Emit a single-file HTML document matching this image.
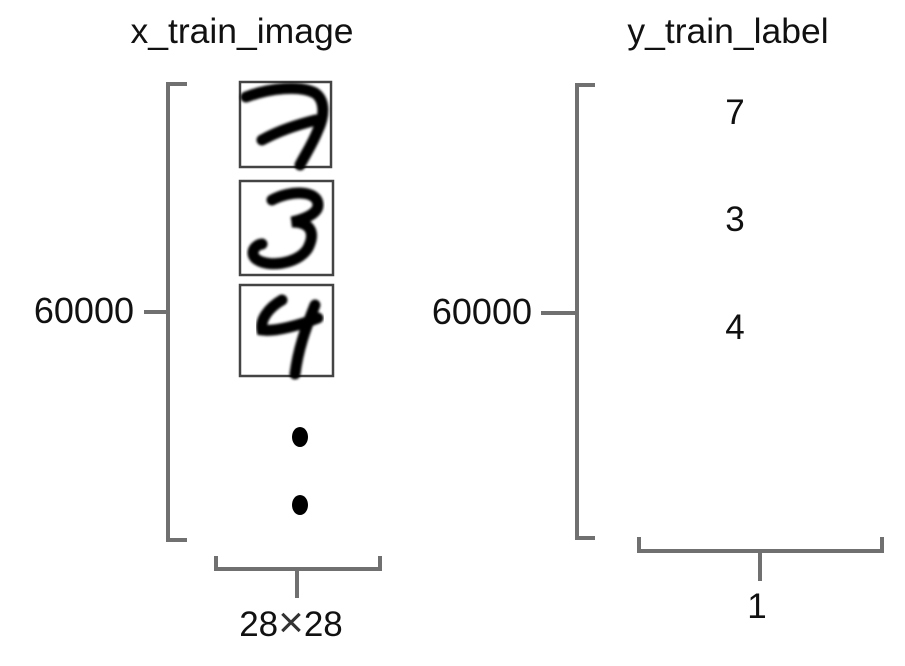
<!DOCTYPE html>
<html><head><meta charset="utf-8"><style>
html,body{margin:0;padding:0;background:#fff;}
svg{display:block;}
text{font-family:"Liberation Sans",Arial,sans-serif;fill:#111;}
</style></head><body>
<svg width="905" height="666" viewBox="0 0 905 666">
<defs><filter id="b" x="-10%" y="-10%" width="120%" height="120%"><feGaussianBlur stdDeviation="1.2"/></filter></defs>
<text x="242" y="43" font-size="35.5" text-anchor="middle">x_train_image</text>
<text x="728" y="43" font-size="35.5" text-anchor="middle">y_train_label</text>

<g stroke="#707070" stroke-width="4" fill="none">
<path d="M187,84 H168 V540 H187"/><path d="M144,312 H168"/>
</g>
<text x="134" y="323" font-size="36" text-anchor="end">60000</text>

<g stroke="#707070" stroke-width="4" fill="none">
<path d="M595,85 H577 V538 H595"/><path d="M541,313 H577"/>
</g>
<text x="532" y="324" font-size="36" text-anchor="end">60000</text>

<g stroke="#707070" stroke-width="4" fill="none">
<path d="M216,556 V569 H380 V556"/><path d="M297,569 V598"/>
</g>
<text x="291" y="636" font-size="35" text-anchor="middle">28<tspan font-size="44" dy="1" fill="#333">×</tspan><tspan dy="-1">28</tspan></text>

<g stroke="#707070" stroke-width="4" fill="none">
<path d="M639,537 V551 H882 V537"/><path d="M760,551 V581"/>
</g>
<text x="757" y="618" font-size="35" text-anchor="middle">1</text>

<g>
<rect x="240" y="82" width="91" height="85" fill="#fff" stroke="#444" stroke-width="2.5"/>
<path d="M246,97 C270,88 300,85 315,93 C325,100 325,115 318,130 C312,145 305,155 300,165 M262,140 C280,130 300,124 316,120" stroke="#000" stroke-width="11" fill="none" stroke-linecap="round" filter="url(#b)"/>
</g>
<g>
<rect x="240" y="181" width="93" height="94" fill="#fff" stroke="#444" stroke-width="2.5"/>
<path d="M272,200 C290,190 318,190 318,205 C318,215 300,220 292,222 C310,222 316,232 308,248 C298,265 265,268 255,258 C250,252 255,245 262,244" stroke="#000" stroke-width="11" fill="none" stroke-linecap="round" filter="url(#b)"/>
</g>
<g>
<rect x="240" y="285" width="93" height="91" fill="#fff" stroke="#444" stroke-width="2.5"/>
<path d="M282,300 C268,308 260,320 262,330 C275,332 300,325 318,318 M315,305 C305,330 298,350 295,374" stroke="#000" stroke-width="11" fill="none" stroke-linecap="round" filter="url(#b)"/>
</g>
<ellipse cx="300" cy="437" rx="8" ry="10" fill="#000"/>
<ellipse cx="300" cy="505" rx="8" ry="10" fill="#000"/>

<text x="735" y="124" font-size="35" text-anchor="middle">7</text>
<text x="735" y="231" font-size="35" text-anchor="middle">3</text>
<text x="735" y="339" font-size="35" text-anchor="middle">4</text>
</svg>
</body></html>
